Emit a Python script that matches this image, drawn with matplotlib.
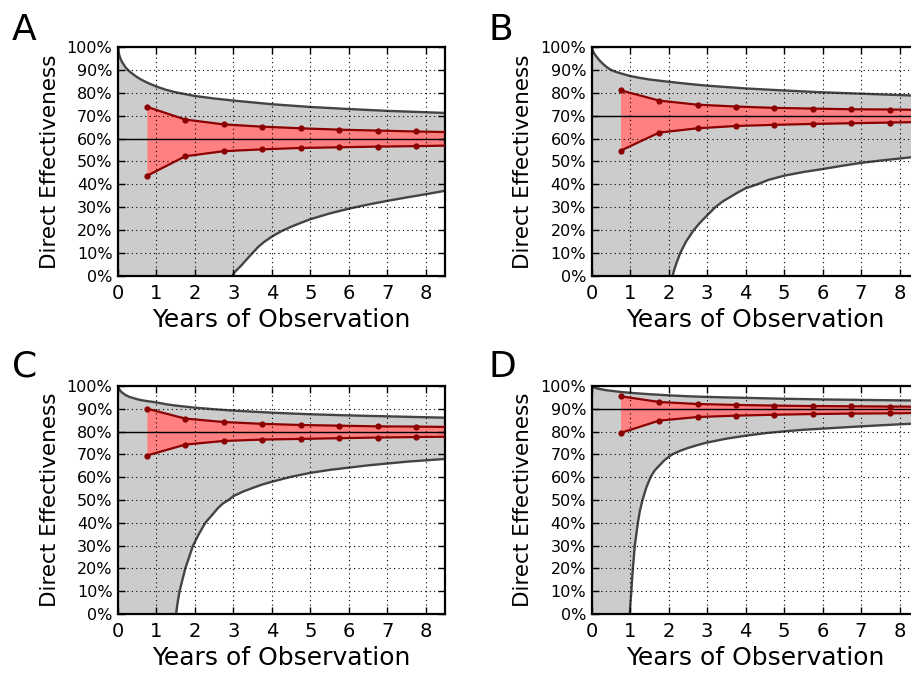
from matplotlib import pyplot as plt
from matplotlib.ticker import PercentFormatter, MultipleLocator
import numpy as np

# years at which the estimate is taken (last one sits just past the axis edge)
obs_years = [0.75, 1.75, 2.75, 3.75, 4.75, 5.75, 6.75, 7.75, 8.75]

panel_letters = ["A", "B", "C", "D"]
true_effect = [60, 70, 80, 90]

# red band, upper and lower estimate (%)
a_hi = [73.9, 68.3, 66.2, 65.2, 64.5, 63.9, 63.5, 63.1, 62.8]
a_lo = [43.7, 52.3, 54.5, 55.3, 55.9, 56.2, 56.5, 56.7, 57.0]
b_hi = [81.1, 76.6, 74.8, 74.0, 73.4, 73.1, 72.8, 72.7, 72.5]
b_lo = [54.7, 62.6, 64.5, 65.5, 66.0, 66.4, 66.7, 67.0, 67.3]
c_hi = [90.1, 85.7, 84.2, 83.4, 82.9, 82.6, 82.3, 82.2, 82.0]
c_lo = [69.5, 74.3, 75.9, 76.5, 76.8, 77.1, 77.4, 77.6, 77.8]
d_hi = [95.5, 93.0, 92.1, 91.7, 91.4, 91.2, 91.1, 91.0, 90.9]
d_lo = [79.4, 84.8, 86.4, 87.0, 87.4, 87.7, 87.9, 88.0, 88.2]

# grey envelope, upper edge (%)
env_up_x = [0, 0.02, 0.05, 0.1, 0.2, 0.3, 0.4, 0.5, 0.6, 0.75, 1, 1.25, 1.5, 2, 2.5,
            3, 4, 5, 6, 7, 8, 8.5]
a_env_up = [100, 97.5, 95.5, 93.6, 91.0, 89.3, 88.0, 86.8, 85.8, 84.5, 82.7, 81.3, 80.2,
            78.6, 77.5, 76.6, 75.0, 73.8, 72.9, 72.1, 71.5, 71.2]
b_env_up = [100, 98.6, 97.6, 96.3, 94.2, 92.5, 91.1, 90.0, 89.3, 88.5, 87.3, 86.5, 85.8,
            84.8, 83.9, 83.1, 81.9, 81.0, 80.2, 79.6, 79.0, 78.7]
c_env_up = [100, 99.0, 98.2, 97.2, 96.0, 95.2, 94.7, 94.2, 93.8, 93.4, 92.8, 92.0, 91.4,
            90.5, 89.8, 89.2, 88.3, 87.6, 87.1, 86.7, 86.3, 86.1]
d_env_up = [100, 99.7, 99.4, 99.1, 98.7, 98.4, 98.1, 97.9, 97.7, 97.4, 97.0, 96.7, 96.4,
            95.9, 95.5, 95.2, 94.8, 94.4, 94.1, 93.9, 93.7, 93.6]

# grey envelope, lower edge (%), from where it leaves 0%
a_env_lo_x = [2.97, 3.05, 3.2, 3.4, 3.65, 3.8, 4, 4.25, 4.5, 4.75, 5, 5.5, 6, 6.5, 7,
              7.5, 8, 8.5]
a_env_lo = [0, 2.0, 4.5, 8.3, 12.8, 14.9, 17.2, 19.6, 21.5, 23.2, 24.8, 27.3, 29.4, 31.2,
            32.8, 34.3, 35.7, 37.2]
b_env_lo_x = [2.10, 2.15, 2.2, 2.3, 2.45, 2.65, 2.8, 3.0, 3.21, 3.4, 3.6, 3.8, 4.0, 4.3,
              4.6, 5, 5.5, 6, 6.5, 7, 7.5, 8, 8.5]
b_env_lo = [0, 3, 5.5, 10, 15, 20, 23, 26.5, 30, 32.5, 34.5, 36.5, 38.3, 40, 42, 43.8,
            45.4, 46.7, 48.1, 49.4, 50.4, 51.3, 52.2]
c_env_lo_x = [1.51, 1.53, 1.55, 1.6, 1.75, 1.95, 2.1, 2.27, 2.45, 2.6, 2.73, 2.87, 3.0,
              3.25, 3.5, 3.75, 4, 4.5, 5, 5.5, 6, 6.5, 7, 7.5, 8, 8.5]
c_env_lo = [0, 2.5, 5, 10, 20, 30, 35, 40, 43.5, 46.5, 48.5, 50, 51.7, 53.7, 55.3, 56.8,
            58, 60.2, 61.9, 63.2, 64.2, 65.2, 66, 66.8, 67.4, 68]
d_env_lo_x = [0.99, 1.0, 1.03, 1.07, 1.12, 1.2, 1.25, 1.32, 1.42, 1.53, 1.63, 1.75, 1.9,
              2.09, 2.3, 2.5, 2.75, 3, 3.5, 4, 4.5, 5, 5.5, 6, 7, 8, 8.5]
d_env_lo = [0, 3, 10, 20, 30, 40, 45, 50, 55.5, 60, 62.8, 65, 67.6, 70, 71.6, 72.8, 74.1,
            75.2, 76.9, 78.2, 79.3, 80.1, 80.8, 81.3, 82.3, 83.2, 83.6]

panels = [
    (a_hi, a_lo, a_env_up, a_env_lo_x, a_env_lo),
    (b_hi, b_lo, b_env_up, b_env_lo_x, b_env_lo),
    (c_hi, c_lo, c_env_up, c_env_lo_x, c_env_lo),
    (d_hi, d_lo, d_env_up, d_env_lo_x, d_env_lo),
]

fig = plt.figure(figsize=(9.11, 6.74), dpi=100)

# right column runs a little past the figure edge, like the original crop
ax_rects = [
    [0.1295, 0.5905, 0.359, 0.3398],
    [0.6495, 0.5905, 0.359, 0.3398],
    [0.1295, 0.0890, 0.359, 0.3383],
    [0.6495, 0.0890, 0.359, 0.3383],
]
letter_pos = [(0.013, 0.941), (0.536, 0.941), (0.013, 0.441), (0.536, 0.441)]

for i, (hi, lo, env_up, env_lo_x, env_lo) in enumerate(panels):
    ax = fig.add_axes(ax_rects[i])
    to_frac = lambda v: np.array(v) / 100.0

    # grey envelope: fill under upper edge, then blank out below lower edge
    ax.fill_between(env_up_x, 0, to_frac(env_up), color='#cccccc', lw=0, zorder=1)
    ax.fill_between(env_lo_x, 0, to_frac(env_lo), color='white', lw=0, zorder=1.1)
    ax.plot(env_up_x, to_frac(env_up), color='#444444', lw=1.7, zorder=2)
    ax.plot(env_lo_x, to_frac(env_lo), color='#444444', lw=1.7, zorder=2)

    # estimate band
    ax.fill_between(obs_years, to_frac(lo), to_frac(hi), color='#ff8080', lw=0, zorder=1.2)
    ax.axhline(true_effect[i] / 100.0, color='black', lw=1.0, zorder=2.1)
    for series in (hi, lo):
        ax.plot(obs_years, to_frac(series), color='#8b0000', lw=1.6,
                marker='o', markersize=4.5, markeredgewidth=0, zorder=3)

    ax.set_xlim(0, 8.5)
    ax.set_ylim(0, 1)
    ax.xaxis.set_major_locator(MultipleLocator(1))
    ax.yaxis.set_major_locator(MultipleLocator(0.1))
    ax.yaxis.set_major_formatter(PercentFormatter(xmax=1, decimals=0))

    ax.set_axisbelow(False)
    ax.grid(True, color='black', linestyle=(0, (1, 3)), lw=0.8)
    ax.tick_params(direction='in', top=True, right=True, length=5, width=1)
    ax.tick_params(axis='x', labelsize=14, pad=6)
    ax.tick_params(axis='y', labelsize=11.5, pad=4)
    for spine in ax.spines.values():
        spine.set_linewidth(1.6)

    ax.set_xlabel('Years of Observation', fontsize=18, labelpad=3)
    ax.set_ylabel('Direct Effectiveness', fontsize=15.5, labelpad=5)

    fig.text(letter_pos[i][0], letter_pos[i][1], panel_letters[i], fontsize=26,
             va='baseline', ha='left')

fig.savefig('out.png', dpi=100)
